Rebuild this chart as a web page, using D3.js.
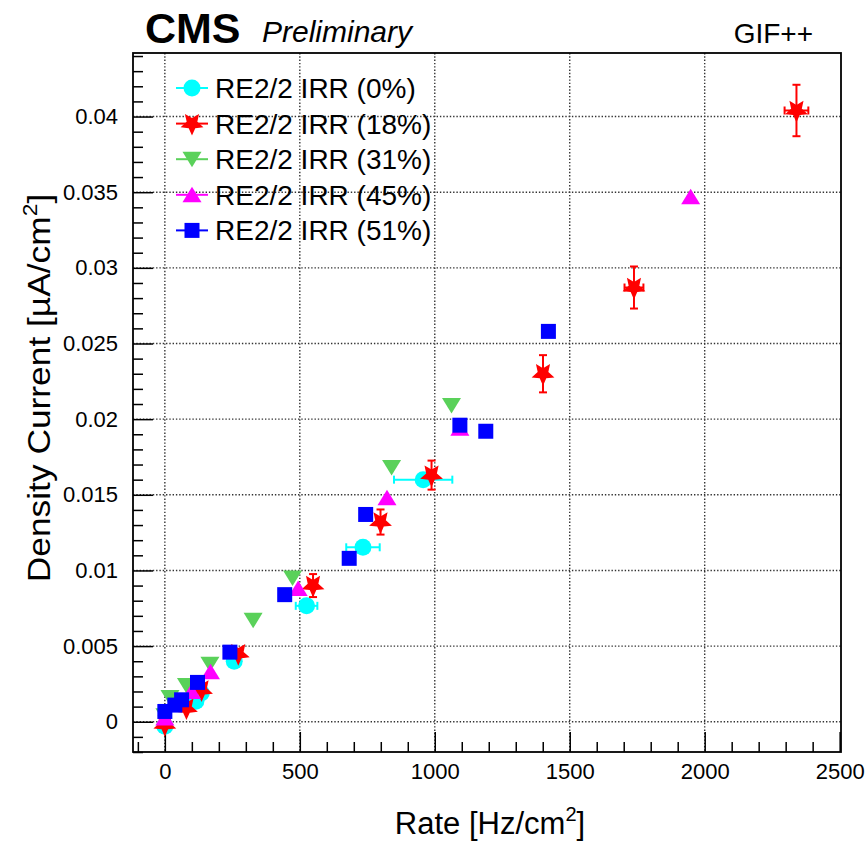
<!DOCTYPE html>
<html><head><meta charset="utf-8">
<script src="https://cdn.jsdelivr.net/npm/d3@7"></script>
<style>
html,body{margin:0;padding:0;background:#fff;}
svg{display:block;font-family:"Liberation Sans",Arial,Helvetica,sans-serif;}
</style></head>
<body>
<svg id="chart" width="866" height="844"></svg>
<script>
// ---------------- data ----------------
const seriesNames = ["RE2/2 IRR (0%)","RE2/2 IRR (18%)","RE2/2 IRR (31%)","RE2/2 IRR (45%)","RE2/2 IRR (51%)"];
const seriesColors = ["#00ffff","#ff0000","#5ad15a","#ff00ff","#0000ff"];
const seriesMarkers = ["circle","star","triangleDown","triangleUp","square"];

const rate0 = [0, 115, 135, 257, 525, 734, 957];
const cur0  = [-0.0003, 0.00135, 0.0019, 0.0040, 0.00766, 0.01153, 0.0160];
const rateErr0 = [8, 10, 10, 25, 40, 62, 108];
const curErr0  = [0.0001, 0.0001, 0.0001, 0.0002, 0.0002, 0.0002, 0.0003];

const rate18 = [0, 80, 136, 272, 549, 799, 988, 1401, 1738, 2340];
const cur18  = [-0.0002, 0.0009, 0.0021, 0.0045, 0.0090, 0.0132, 0.0163, 0.0230, 0.0287, 0.0404];
const rateErr18 = [2, 5, 8, 15, 20, 20, 25, 30, 35, 44];
const curErr18  = [0.0002, 0.0003, 0.0003, 0.0004, 0.00076, 0.00083, 0.00096, 0.00123, 0.00139, 0.0017];

const rate31 = [0, 19, 80, 167, 327, 473, 840, 1062];
const cur31  = [0.0004, 0.0016, 0.0024, 0.0038, 0.0067, 0.0095, 0.0168, 0.0209];

const rate45 = [0, 99, 169, 494, 823, 1093, 1948];
const cur45  = [0.00024, 0.0020, 0.0033, 0.0088, 0.0148, 0.0194, 0.0347];

const rate51 = [0, 37, 62, 121, 241, 444, 683, 744, 1093, 1189, 1421];
const cur51  = [0.00068, 0.0011, 0.00145, 0.0026, 0.0046, 0.0084, 0.0108, 0.0137, 0.0196, 0.0192, 0.0258];

const xTickValues = [0, 500, 1000, 1500, 2000, 2500];
const xTickLabels = ["0", "500", "1000", "1500", "2000", "2500"];
const yTickValues = [0, 0.005, 0.01, 0.015, 0.02, 0.025, 0.03, 0.035, 0.04];
const yTickLabels = ["0", "0.005", "0.01", "0.015", "0.02", "0.025", "0.03", "0.035", "0.04"];
const xDomain = [-118, 2505];
const yDomain = [-0.002, 0.0442];

// ---------------- build ----------------
const series = [
  {x: rate0,  y: cur0,  ex: rateErr0,  ey: curErr0},
  {x: rate18, y: cur18, ex: rateErr18, ey: curErr18},
  {x: rate31, y: cur31, ex: null, ey: null},
  {x: rate45, y: cur45, ex: null, ey: null},
  {x: rate51, y: cur51, ex: null, ey: null}
].map((s, i) => ({
  name: seriesNames[i], color: seriesColors[i], marker: seriesMarkers[i],
  pts: s.x.map((v, j) => ({x: v, y: s.y[j], ex: s.ex ? s.ex[j] : 0, ey: s.ey ? s.ey[j] : 0}))
}));

const L = 133, R = 841, T = 53, B = 752;
const svg = d3.select("#chart");
const x = d3.scaleLinear().domain(xDomain).range([L, R]);
const y = d3.scaleLinear().domain(yDomain).range([B, T]);

// grid
const grid = svg.append("g").attr("stroke", "#333").attr("stroke-width", 1.4).attr("stroke-dasharray", "1.4,1.9");
grid.selectAll(".gx").data(xTickValues.filter(v => x(v) < R - 2)).join("line")
  .attr("x1", d => x(d)).attr("x2", d => x(d)).attr("y1", T).attr("y2", B);
grid.selectAll(".gy").data(yTickValues).join("line")
  .attr("y1", d => y(d)).attr("y2", d => y(d)).attr("x1", L).attr("x2", R);

// minor ticks
const xMinor = d3.range(-100, 2501, 100).filter(v => !xTickValues.includes(v));
const yMinor = d3.range(-2, 45, 1).map(v => v / 1000).filter(v => !yTickValues.some(t => Math.abs(t - v) < 1e-9));

svg.append("g").attr("transform", `translate(0,${B})`)
  .call(d3.axisBottom(x).tickValues(xMinor).tickSize(-10).tickFormat(""))
  .call(g => g.select(".domain").remove())
  .selectAll("line").attr("stroke", "#000").attr("stroke-width", 1.5);
svg.append("g").attr("transform", `translate(${L},0)`)
  .call(d3.axisLeft(y).tickValues(yMinor).tickSize(-10).tickFormat(""))
  .call(g => g.select(".domain").remove())
  .selectAll("line").attr("stroke", "#000").attr("stroke-width", 1.5);

// major axes
const xAxis = svg.append("g").attr("transform", `translate(0,${B})`)
  .call(d3.axisBottom(x).tickValues(xTickValues).tickSize(-20).tickPadding(11)
    .tickFormat((d, i) => xTickLabels[i]));
xAxis.select(".domain").remove();
xAxis.selectAll("line").attr("stroke", "#000").attr("stroke-width", 1.5);
xAxis.selectAll("text").attr("font-size", 22).attr("fill", "#000")
  .attr("font-family", "Liberation Sans, Arial, sans-serif");

const yAxis = svg.append("g").attr("transform", `translate(${L},0)`)
  .call(d3.axisLeft(y).tickValues(yTickValues).tickSize(-20).tickPadding(15)
    .tickFormat((d, i) => yTickLabels[i]));
yAxis.select(".domain").remove();
yAxis.selectAll("line").attr("stroke", "#000").attr("stroke-width", 1.5);
yAxis.selectAll("text").attr("font-size", 22).attr("fill", "#000")
  .attr("font-family", "Liberation Sans, Arial, sans-serif");

// frame
svg.append("rect").attr("x", L).attr("y", T).attr("width", R - L).attr("height", B - T)
  .attr("fill", "none").attr("stroke", "#000").attr("stroke-width", 1.8);

// marker shapes
function markerPath(type) {
  switch (type) {
    case "circle": return d3.symbol(d3.symbolCircle, 227)();
    case "square": return "M-7.5,-7.5H7.5V7.5H-7.5Z";
    case "triangleUp": return "M0,-8L9.5,7.5H-9.5Z";
    case "triangleDown": return "M0,8L9.5,-7.5H-9.5Z";
    case "star": {
      const pts = [];
      for (let k = 0; k < 10; k++) {
        const r = k % 2 === 0 ? 12 : 5.6;
        const a = Math.PI / 5 * k + Math.PI;
        pts.push([r * Math.sin(a), -r * Math.cos(a)]);
      }
      return "M" + pts.map(p => p[0].toFixed(2) + "," + p[1].toFixed(2)).join("L") + "Z";
    }
  }
}

// data
const plot = svg.append("g");
series.forEach(s => {
  const g = plot.append("g");
  const cap = 4;
  s.pts.forEach(p => {
    const cx = x(p.x), cy = y(p.y);
    if (p.ex > 0) {
      const x1 = x(p.x - p.ex), x2 = x(p.x + p.ex);
      if (x2 - x1 > 18) {
        g.append("line").attr("x1", x1).attr("x2", x2).attr("y1", cy).attr("y2", cy)
          .attr("stroke", s.color).attr("stroke-width", 2);
        g.append("line").attr("x1", x1).attr("x2", x1).attr("y1", cy - cap).attr("y2", cy + cap)
          .attr("stroke", s.color).attr("stroke-width", 2);
        g.append("line").attr("x1", x2).attr("x2", x2).attr("y1", cy - cap).attr("y2", cy + cap)
          .attr("stroke", s.color).attr("stroke-width", 2);
      }
    }
    if (p.ey > 0) {
      const y1 = y(p.y + p.ey), y2 = y(p.y - p.ey);
      if (y2 - y1 > 18) {
        g.append("line").attr("x1", cx).attr("x2", cx).attr("y1", y1).attr("y2", y2)
          .attr("stroke", s.color).attr("stroke-width", 2);
        g.append("line").attr("x1", cx - cap).attr("x2", cx + cap).attr("y1", y1).attr("y2", y1)
          .attr("stroke", s.color).attr("stroke-width", 2);
        g.append("line").attr("x1", cx - cap).attr("x2", cx + cap).attr("y1", y2).attr("y2", y2)
          .attr("stroke", s.color).attr("stroke-width", 2);
      }
    }
  });
  g.selectAll("path.m").data(s.pts).join("path").attr("class", "m")
    .attr("d", markerPath(s.marker))
    .attr("transform", d => `translate(${x(d.x)},${y(d.y)})`)
    .attr("fill", s.color);
});

// legend
const leg = svg.append("g").attr("transform", "translate(192,88)");
series.forEach((s, i) => {
  const row = leg.append("g").attr("transform", `translate(0,${i * 35.6})`);
  row.append("line").attr("x1", -16).attr("x2", 16).attr("y1", 0).attr("y2", 0)
    .attr("stroke", s.color).attr("stroke-width", 2);
  row.append("path").attr("d", markerPath(s.marker)).attr("fill", s.color);
  row.append("text").attr("x", 23).attr("y", 0).attr("dy", "0.36em")
    .attr("font-size", 28).attr("fill", "#000").text(s.name);
});

// titles
svg.append("text").attr("x", 145).attr("y", 43).attr("font-size", 43).attr("font-weight", "bold")
  .attr("fill", "#000").text("CMS");
svg.append("text").attr("x", 262).attr("y", 42).attr("font-size", 30).attr("font-style", "italic")
  .attr("fill", "#000").text("Preliminary");
svg.append("text").attr("x", 813).attr("y", 43).attr("font-size", 28).attr("text-anchor", "end")
  .attr("fill", "#000").text("GIF++");

const xt = svg.append("text").attr("x", 490).attr("y", 834).attr("font-size", 31)
  .attr("text-anchor", "middle").attr("fill", "#000");
xt.append("tspan").text("Rate [Hz/cm");
xt.append("tspan").attr("font-size", 20).attr("dy", -13).text("2");
xt.append("tspan").attr("dy", 13).text("]");

const yt = svg.append("text").attr("transform", "translate(50,388) rotate(-90) scale(1.14,1)").attr("font-size", 31)
  .attr("text-anchor", "middle").attr("fill", "#000");
yt.append("tspan").text("Density Current [\u00b5A/cm");
yt.append("tspan").attr("font-size", 20).attr("dy", -13).text("2");
yt.append("tspan").attr("dy", 13).text("]");
</script>
</body></html>
